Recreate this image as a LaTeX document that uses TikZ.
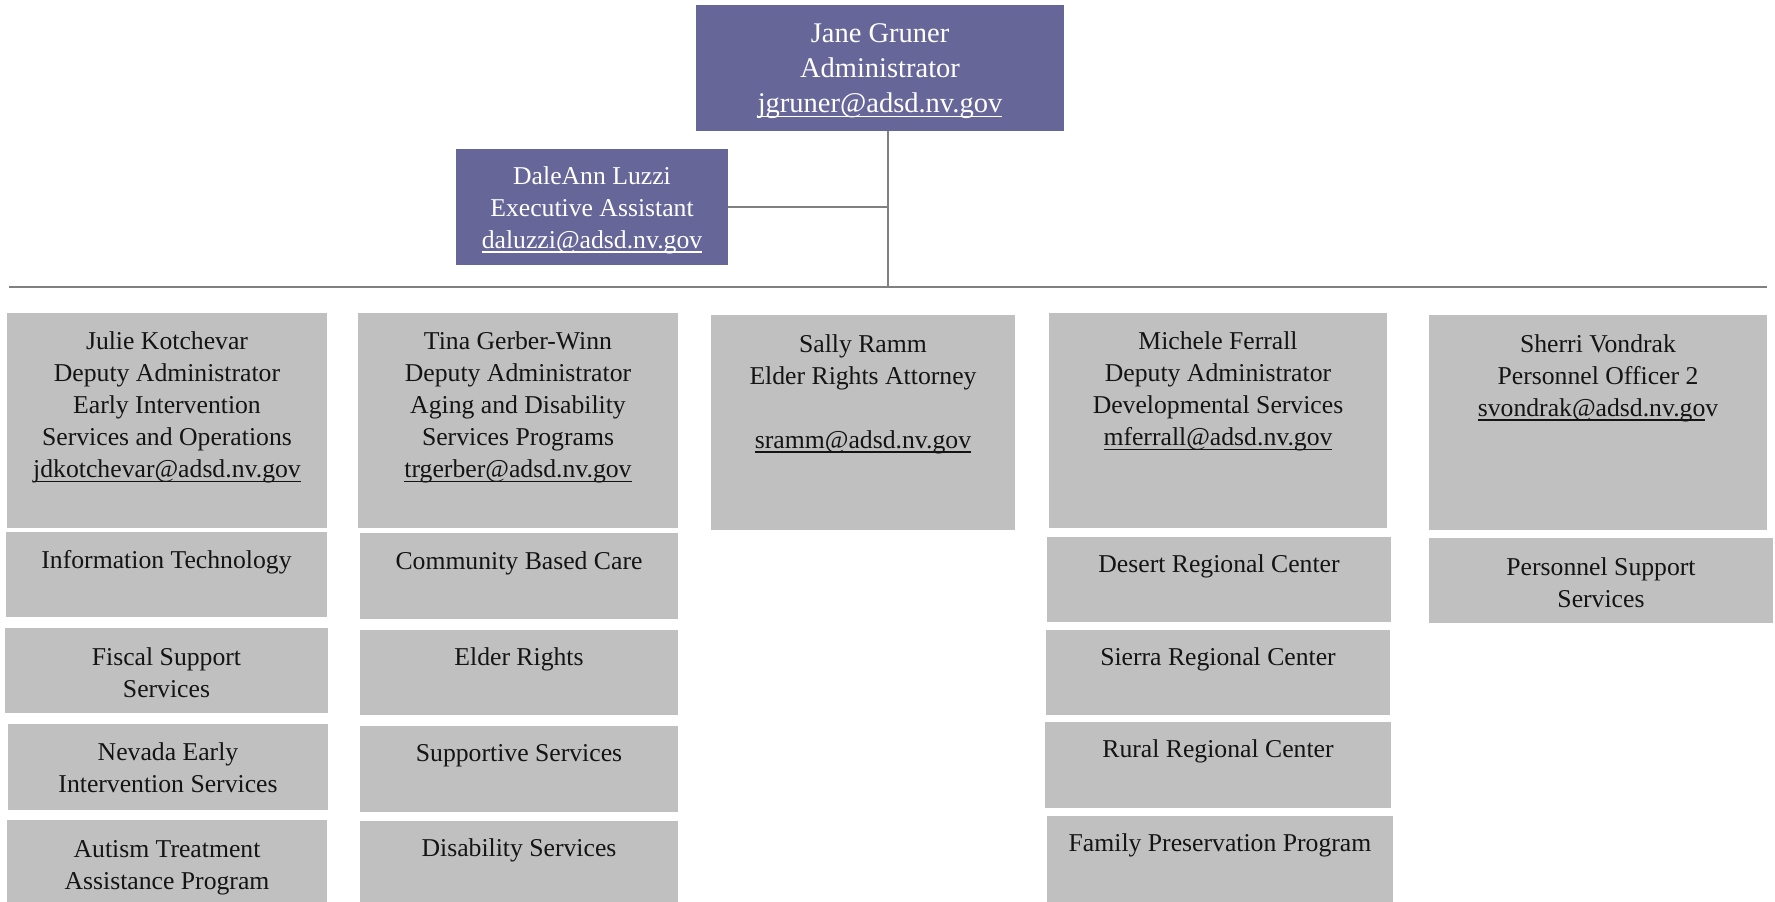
\documentclass[tikz,border=0pt]{standalone}
\usepackage{fontspec}
\setmainfont{Liberation Serif}
\newsavebox{\mailbox}
\newcommand{\mailu}[1]{\sbox{\mailbox}{#1}\rlap{\rule[-4.6pt]{\wd\mailbox}{1.4pt}}\usebox{\mailbox}}
\usetikzlibrary{fit,calc}
\definecolor{headpurple}{RGB}{102,102,153}
\definecolor{boxgray}{RGB}{192,192,192}
\definecolor{linegray}{RGB}{128,128,128}
\definecolor{inkblack}{RGB}{20,20,20}
\begin{document}
\begin{tikzpicture}[x=1pt,y=-1pt,
  bx/.style={rectangle,fill=boxgray,inner sep=0pt,outer sep=0pt},
  hd/.style={rectangle,fill=headpurple,inner sep=0pt,outer sep=0pt},
  tx/.style={anchor=north,inner sep=0pt,align=center,text=inkblack,
    font=\fontsize{25.7}{32}\selectfont},
  htx/.style={anchor=north,inner sep=0pt,align=center,text=white,
    font=\fontsize{25.7}{32}\selectfont},
  conn/.style={draw=linegray,line width=2pt}]
\useasboundingbox (0,0) rectangle (1775,902);
\fill[white] (0,0) rectangle (1775,902);

% top
\node[hd,fit={(696,5) (1064,131)}] (jane) {};
\node[htx,font=\fontsize{28.5}{35}\selectfont] (jane-t) at ($(jane.north)+(0,13)$)
  {\strut Jane Gruner\\Administrator\\\mailu{jgruner@adsd.nv.gov}};
\node[hd,fit={(456,149) (728,265)}] (dale) {};
\node[htx] (dale-t) at ($(dale.north)+(0,12.5)$)
  {\strut DaleAnn Luzzi\\Executive Assistant\\\mailu{daluzzi@adsd.nv.gov}};

% connectors
\coordinate (barL) at (9,287);
\coordinate (barM) at (888,287);
\coordinate (barR) at (1767,287);
\coordinate (hub) at (dale.east -| barM);
\draw[conn] (jane.south -| barM) -- (barM);
\draw[conn] (dale.east) -- (hub);
\draw[conn] (barL) -- (barR);

% column 1
\node[bx,fit={(7,313) (327,528)}] (julie) {};
\node[tx] (julie-t) at ($(julie.north)+(0,14)$)
  {\strut Julie Kotchevar\\Deputy Administrator\\Early Intervention\\Services and Operations\\\mailu{jdkotchevar@adsd.nv.gov}};
\node[bx,fit={(6,532) (327,617)}] (it) {};
\node[tx] (it-t) at ($(it.north)+(0,13.6)$) {\strut Information Technology};
\node[bx,fit={(5,628) (328,713)}] (fiscal) {};
\node[tx] (fiscal-t) at ($(fiscal.north)+(0,14.6)$) {\strut Fiscal Support\\Services};
\node[bx,fit={(8,724) (328,810)}] (neis) {};
\node[tx] (neis-t) at ($(neis.north)+(0,14)$) {\strut Nevada Early\\Intervention Services};
\node[bx,fit={(7,820) (327,902)}] (atap) {};
\node[tx] (atap-t) at ($(atap.north)+(0,14.6)$) {\strut Autism Treatment\\Assistance Program};

% column 2
\node[bx,fit={(358,313) (678,528)}] (tina) {};
\node[tx] (tina-t) at ($(tina.north)+(0,14)$)
  {\strut Tina Gerber-Winn\\Deputy Administrator\\Aging and Disability\\Services Programs\\\mailu{trgerber@adsd.nv.gov}};
\node[bx,fit={(360,533) (678,619)}] (cbc) {};
\node[tx] (cbc-t) at ($(cbc.north)+(0,14)$) {\strut Community Based Care};
\node[bx,fit={(360,630) (678,715)}] (elder) {};
\node[tx] (elder-t) at ($(elder.north)+(0,13)$) {\strut Elder Rights};
\node[bx,fit={(360,726) (678,812)}] (supp) {};
\node[tx] (supp-t) at ($(supp.north)+(0,13)$) {\strut Supportive Services};
\node[bx,fit={(360,821) (678,902)}] (dis) {};
\node[tx] (dis-t) at ($(dis.north)+(0,12.5)$) {\strut Disability Services};

% column 3
\node[bx,fit={(711,315) (1015,530)}] (sally) {};
\node[tx] (sally-t) at ($(sally.north)+(0,14.6)$)
  {\strut Sally Ramm\\Elder Rights Attorney\\[32pt]\mailu{sramm@adsd.nv.gov}};

% column 4
\node[bx,fit={(1049,313) (1387,528)}] (michele) {};
\node[tx] (michele-t) at ($(michele.north)+(0,14)$)
  {\strut Michele Ferrall\\Deputy Administrator\\Developmental Services\\\mailu{mferrall@adsd.nv.gov}};
\node[bx,fit={(1047,537) (1391,622)}] (desert) {};
\node[tx] (desert-t) at ($(desert.north)+(0,13.2)$) {\strut Desert Regional Center};
\node[bx,fit={(1046,630) (1390,715)}] (sierra) {};
\node[tx] (sierra-t) at ($(sierra.north)+(0,13.2)$) {\strut Sierra Regional Center};
\node[bx,fit={(1045,722) (1391,808)}] (rural) {};
\node[tx] (rural-t) at ($(rural.north)+(0,13.2)$) {\strut Rural Regional Center};
\node[bx,fit={(1047,816) (1393,902)}] (family) {};
\node[tx] (family-t) at ($(family.north)+(0,12.6)$) {\strut Family Preservation Program};

% column 5
\node[bx,fit={(1429,315) (1767,530)}] (sherri) {};
\node[tx] (sherri-t) at ($(sherri.north)+(0,14.6)$)
  {\strut Sherri Vondrak\\Personnel Officer 2\\\mailu{svondrak@adsd.nv.go}v};
\node[bx,fit={(1429,538) (1773,623)}] (pss) {};
\node[tx] (pss-t) at ($(pss.north)+(0,14.6)$) {\strut Personnel Support\\Services};
\end{tikzpicture}
\end{document}
